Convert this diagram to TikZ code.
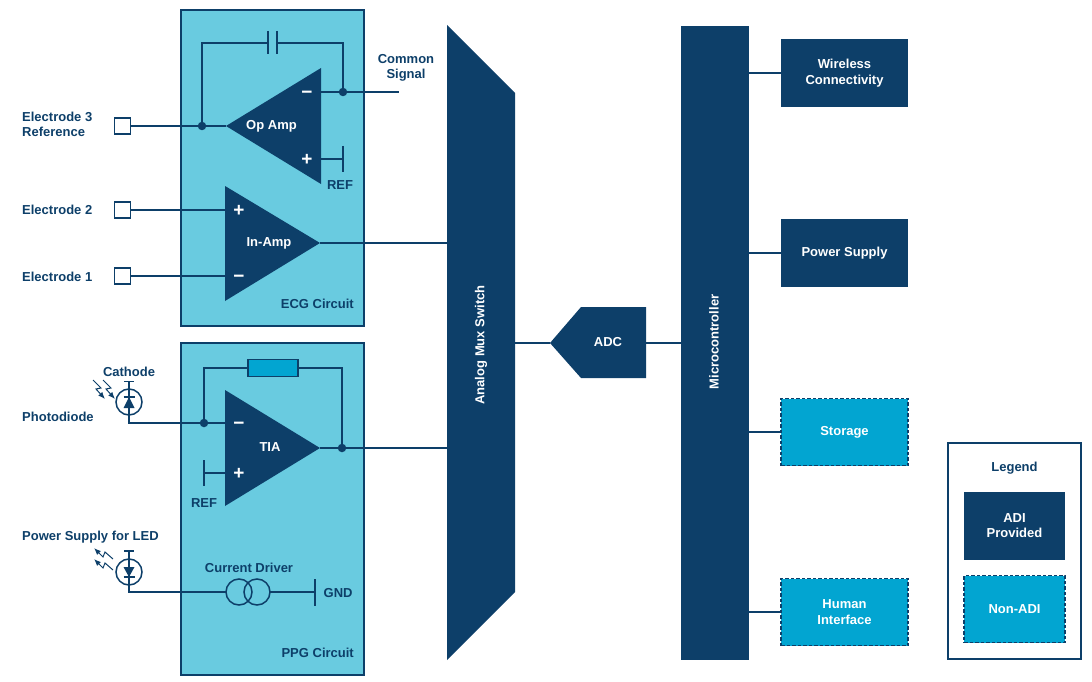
\documentclass[tikz,border=0pt]{standalone}
\usepackage{fontspec}
\usetikzlibrary{arrows.meta}
\setmainfont{Liberation Sans}
\definecolor{adinavy}{HTML}{0D3F69}
\definecolor{ecgblue}{HTML}{69CBE0}
\definecolor{nonadi}{HTML}{02A5D1}
\newcommand{\blockfont}{\bfseries\fontsize{13}{15.5}\selectfont}
\tikzset{
	wire/.style={adinavy, line width=1.5pt},
	lbl/.style={adinavy, font=\blockfont, align=center, inner sep=0pt},
	lblw/.style={white, font=\blockfont, align=center, inner sep=0pt},
	sign/.style={white, font=\bfseries\fontsize{19}{19}\selectfont, inner sep=0pt},
	pad/.style={draw=adinavy, line width=1.5pt, fill=white, minimum size=16pt, inner sep=0pt, outer sep=0pt},
	dot/.style={circle, fill=adinavy, minimum size=8.5pt, inner sep=0pt, outer sep=0pt},
	ring/.style={draw=adinavy, line width=1.5pt, circle, minimum size=26pt, inner sep=0pt, outer sep=0pt},
	circuit/.style={draw=adinavy, line width=1.5pt, fill=ecgblue, inner sep=0pt, outer sep=0pt},
	adibox/.style={fill=adinavy, text=white, font=\blockfont, align=center, inner sep=0pt, outer sep=0pt},
	nonbox/.style={draw=adinavy, dash pattern=on 3.5pt off 2pt, line width=1.1pt, fill=nonadi, text=white, font=\blockfont, align=center, inner sep=0pt, outer sep=0pt},
	photon/.style={adinavy, line width=1pt, -{Latex[length=7pt,width=5.5pt]}},
}
\begin{document}
\begin{tikzpicture}[x=1pt,y=-1pt]
		\useasboundingbox (0,0) rectangle (1092,682);
		% circuit panels
		\node[circuit, minimum width=183pt, minimum height=316pt] (ecg) at (272.5,168) {};
		\node[circuit, minimum width=183pt, minimum height=332pt] (ppg) at (272.5,509) {};
		\node[lbl, anchor=east] (ecglabel) at (354,303.5) {ECG Circuit};
		\node[lbl, anchor=east] (ppglabel) at (354,652.5) {PPG Circuit};
		
		% named pins
		\coordinate (opin) at (226,126);
		\coordinate (opminus) at (321,92);
		\coordinate (opplus) at (321,159);
		\coordinate (common) at (399,92);
		\coordinate (refa) at (343,159);
		\coordinate (inplus) at (225,210);
		\coordinate (inminus) at (225,276);
		\coordinate (inout) at (320,243);
		\coordinate (tiaminus) at (225,423);
		\coordinate (tiaplus) at (225,473);
		\coordinate (tiaout) at (320,448);
		\coordinate (refb) at (204,473);
		\coordinate (muxa) at (447,243);
		\coordinate (muxb) at (447,448);
		\coordinate (muxc) at (515,343);
		
		% amplifiers
		\fill[adinavy] (opin)--(321,68)--(321,184)--cycle;
		\fill[adinavy] (225,186)--(225,301)--(inout)--cycle;
		\fill[adinavy] (225,390)--(225,506)--(tiaout)--cycle;
		\node[lblw] (opamp) at (271.5,126) {Op Amp};
		\node[lblw] (inamp) at (269,243) {In-Amp};
		\node[lblw] (tia) at (270,447.5) {TIA};
		\node[sign] (opm) at (307,95) {\textminus};
		\node[sign] (opp) at (307,160) {+};
		\node[sign] (inp) at (239,211) {+};
		\node[sign] (inm) at (239,279) {\textminus};
		\node[sign] (tiam) at (239,426) {\textminus};
		\node[sign] (tiap) at (239,474) {+};
		
		% electrodes
		\node[pad] (pad3) at (122.5,126) {};
		\node[pad] (pad2) at (122.5,210) {};
		\node[pad] (pad1) at (122.5,276) {};
		\node[lbl, anchor=west, align=left] (e3) at (22,124.5) {Electrode 3\\Reference};
		\node[lbl, anchor=west] (e2) at (22,210) {Electrode 2};
		\node[lbl, anchor=west] (e1) at (22,277) {Electrode 1};
		\node[dot] (opdot) at (202,126) {};
		\node[dot] (outdot) at (343,92) {};
		\draw[wire] (pad3.east)--(opin);
		\draw[wire] (pad2.east)--(inplus);
		\draw[wire] (pad1.east)--(inminus);
		\draw[wire] (opminus)--(common);
		\draw[wire] (inout)--(muxa);
		
		% feedback capacitor
		\coordinate (capa) at (268,43);
		\coordinate (capb) at (277,43);
		\draw[wire] (opdot.center)|-(capa);
		\draw[wire] (capb)-|(outdot.center);
		\draw[wire] (268,31)--(268,54);
		\draw[wire] (277,31)--(277,54);
		\node[lbl] (commonlabel) at (406,68) {Common\\Signal};
		
		% ref on op amp
		\draw[wire] (opplus)--(refa);
		\draw[wire] (343,146)--(343,172);
		\node[lbl] (reflabela) at (340,185.5) {REF};
		
		% tia feedback
		\node[draw=adinavy, line width=1.5pt, fill=nonadi, minimum width=50pt, minimum height=17pt, inner sep=0pt, outer sep=0pt] (rf) at (273,368) {};
		\node[dot] (tiadot) at (204,423) {};
		\node[dot] (tiaoutdot) at (342,448) {};
		\draw[wire] (tiadot.center)|-(rf.west);
		\draw[wire] (rf.east)-|(tiaoutdot.center);
		\draw[wire] (tiaout)--(muxb);
		\draw[wire] (tiaplus)--(refb);
		\draw[wire] (204,460)--(204,486);
		\node[lbl] (reflabelb) at (204,503.5) {REF};
		
		% photodiode
		\node[ring] (pd) at (129,402) {};
		\fill[adinavy] (129,397)--(134.5,408)--(123.5,408)--cycle;
		\draw[wire] (123.5,397)--(134.5,397);
		\draw[wire] (124,381.5)--(134,381.5);
		\draw[wire] (129,381.5)--(129,423)--(tiaminus);
		\node[lbl] (cathode) at (129,372) {Cathode};
		\node[lbl, anchor=west] (photodiode) at (22,417) {Photodiode};
		\foreach \dx in {0,10}
			\draw[photon] (93+\dx,380)--(101+\dx,388)--(96+\dx,389)--(105+\dx,399);
		
		% led
		\node[ring] (led) at (129,572) {};
		\fill[adinavy] (129,577)--(134.5,567)--(123.5,567)--cycle;
		\draw[wire] (123.5,577)--(134.5,577);
		\draw[wire] (124,551)--(134,551);
		\node[lbl, anchor=west] (ledlabel) at (22,537) {Power Supply for LED};
		\foreach \dy in {0,11}
			\draw[photon] (113,559+\dy)--(105,552+\dy)--(103,557+\dy)--(94,548+\dy);
		
		% current driver
		\node[ring] (cda) at (239,592) {};
		\node[ring] (cdb) at (257,592) {};
		\coordinate (gnd) at (315,592);
		\draw[wire] (129,551)--(129,592)--(cda.west);
		\draw[wire] (cdb.east)--(gnd);
		\draw[wire] (315,579)--(315,606);
		\node[lbl] (cdlabel) at (249,568) {Current Driver};
		\node[lbl, anchor=west] (gndlabel) at (323.5,593) {GND};
		
		% mux and adc
		\fill[adinavy] (447,25)--(515,93)--(515,592)--(447,660)--cycle;
		\node[lblw, rotate=90] (mux) at (481,345) {Analog Mux Switch};
		\fill[adinavy] (550,343)--(581,307)--(646,307)--(646,378)--(581,378)--cycle;
		\node[lblw] (adc) at (608,342.5) {ADC};
		\coordinate (adcin) at (550,343);
		\coordinate (adcout) at (646,343);
		\draw[wire] (muxc)--(adcin);
		
		% microcontroller and peripherals
		\node[adibox, minimum width=68pt, minimum height=634pt] (mcu) at (715,343) {};
		\node[lblw, rotate=90] (mculabel) at (714,342) {Microcontroller};
		\draw[wire] (adcout)--(mcu.west |- adcout);
		\node[adibox, minimum width=127pt, minimum height=68pt] (wireless) at (844.5,73) {Wireless\\Connectivity};
		\node[adibox, minimum width=127pt, minimum height=68pt] (power) at (844.5,253) {Power Supply};
		\node[nonbox, minimum width=127pt, minimum height=67pt] (storage) at (844.5,432) {Storage};
		\node[nonbox, minimum width=127pt, minimum height=67pt] (human) at (844.5,612) {Human\\Interface};
		\draw[wire] (mcu.east |- wireless)--(wireless.west);
		\draw[wire] (mcu.east |- power)--(power.west);
		\draw[wire] (mcu.east |- storage)--(storage.west);
		\draw[wire] (mcu.east |- human)--(human.west);
		
		% legend
		\node[draw=adinavy, line width=1.5pt, fill=white, minimum width=133pt, minimum height=216pt, inner sep=0pt, outer sep=0pt] (legend) at (1014.5,551) {};
		\node[lbl] (legendlabel) at (1014.5,468) {Legend};
		\node[adibox, minimum width=101pt, minimum height=68pt] (adi) at (1014.5,525.5) {ADI\\Provided};
		\node[nonbox, minimum width=101pt, minimum height=67pt] (non) at (1014.5,609) {Non-ADI};
	\end{tikzpicture}
\end{document}
